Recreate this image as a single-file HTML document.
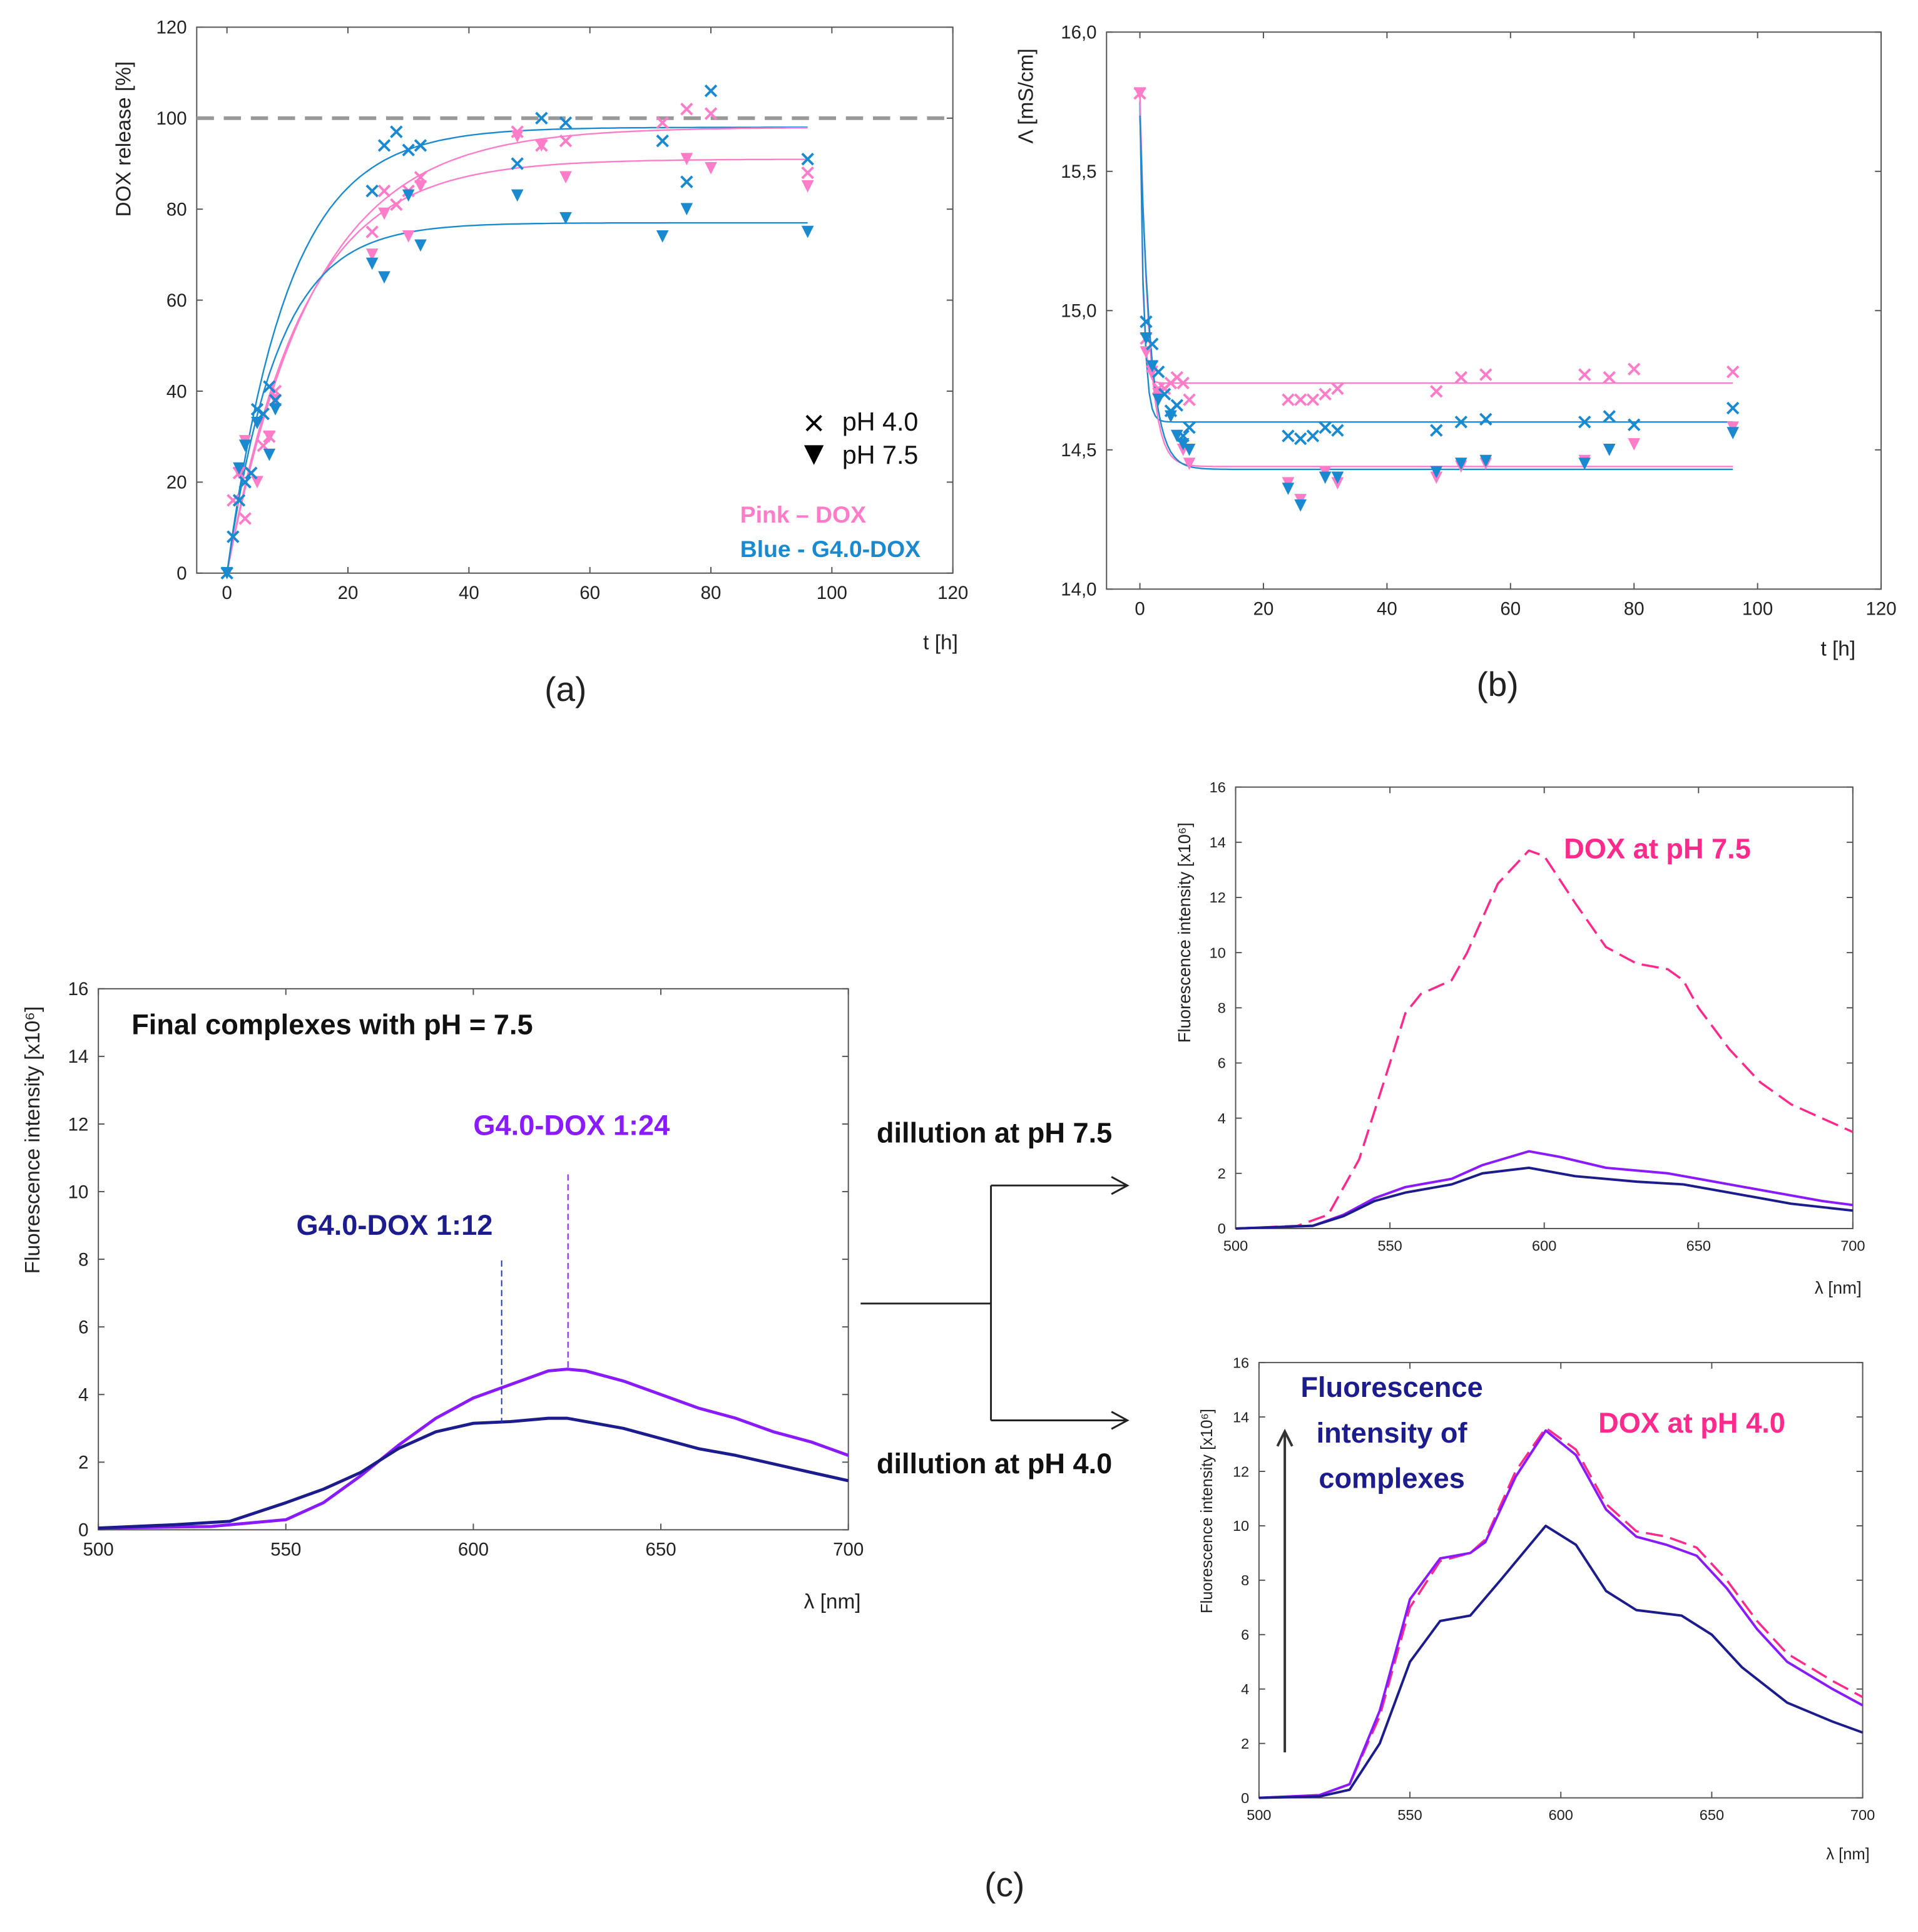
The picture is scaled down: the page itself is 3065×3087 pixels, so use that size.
<!DOCTYPE html>
<html><head><meta charset="utf-8"><style>
html,body{margin:0;padding:0;background:#fff}
svg{display:block}
text{font-family:"Liberation Sans",sans-serif}
</style></head><body>
<svg id="fig" width="3065" height="3087" viewBox="0 0 1560 1571" xmlns="http://www.w3.org/2000/svg"></svg>
<script>
// ---------- Panel (a) data ----------
const aBlueXT=[0,1,2,3,4,5,6,7,8,24,26,28,30,32,48,52,56,72,76,80,96];
const aBlueXV=[0,8,16,20,22,36,35,41,38,84,94,97,93,94,90,100,99,95,86,106,91];
const aBlueTT=[0,2,3,5,7,8,24,26,30,32,48,56,72,76,96];
const aBlueTV=[0,23,28,33,26,36,68,65,83,72,83,78,74,80,75];
const aPinkXT=[1,2,3,4,6,7,8,24,26,28,30,32,48,52,56,72,76,80,96];
const aPinkXV=[16,22,12,22,28,30,40,75,84,81,84,87,97,94,95,99,102,101,88];
const aPinkTT=[2,3,5,7,8,24,26,30,32,48,52,56,76,80,96];
const aPinkTV=[22,29,20,30,38,70,79,74,85,96,94,87,91,89,85];
const aFitPlateau=[98,98,91,77];
const aFitRate=[0.1,0.07,0.08,0.12];
const aXTicks=[0,20,40,60,80,100,120];
const aYTicks=[0,20,40,60,80,100,120];
// ---------- Panel (b) data ----------
const bPinkXT=[0,1,2,3,4,5,6,7,8,24,26,28,30,32,48,52,56,72,76,80,96];
const bPinkXV=[15.78,14.9,14.8,14.72,14.72,14.74,14.76,14.74,14.68,14.68,14.68,14.68,14.7,14.72,14.71,14.76,14.77,14.77,14.76,14.79,14.78];
const bBlueXT=[1,2,3,4,5,6,7,8,24,26,28,30,32,48,52,56,72,76,80,96];
const bBlueXV=[14.96,14.88,14.78,14.7,14.64,14.66,14.55,14.58,14.55,14.54,14.55,14.58,14.57,14.57,14.6,14.61,14.6,14.62,14.59,14.65];
const bPinkTT=[0,1,2,3,5,6,7,8,24,26,30,32,48,52,56,72,76,80,96];
const bPinkTV=[15.78,14.85,14.78,14.7,14.62,14.55,14.5,14.45,14.38,14.32,14.42,14.38,14.4,14.44,14.45,14.46,14.5,14.52,14.58];
const bBlueTT=[1,2,3,5,6,7,8,24,26,30,32,48,52,56,72,76,96];
const bBlueTV=[14.9,14.8,14.68,14.62,14.55,14.52,14.5,14.36,14.3,14.4,14.4,14.42,14.45,14.46,14.45,14.5,14.56];
const bFitPlateau=[14.74,14.60,14.44,14.43];
const bFitStart=[15.78,15.75,15.78,15.7];
const bFitRate=[2.2,1.6,0.7,0.6];
const bXTicks=[0,20,40,60,80,100,120];
const bYTicks=[14.0,14.5,15.0,15.5,16.0];
// ---------- Panel (c) left ----------
const cLPurpleX=[500,530,550,560,570,580,590,600,610,620,625,630,640,650,660,670,680,690,700];
const cLPurpleY=[0.05,0.1,0.3,0.8,1.6,2.5,3.3,3.9,4.3,4.7,4.75,4.7,4.4,4.0,3.6,3.3,2.9,2.6,2.2];
const cLNavyX=[500,520,535,550,560,570,580,590,600,610,620,625,630,640,650,660,670,680,690,700];
const cLNavyY=[0.05,0.15,0.25,0.8,1.2,1.7,2.4,2.9,3.15,3.2,3.3,3.3,3.2,3.0,2.7,2.4,2.2,1.95,1.7,1.45];
// ---------- Panel (c) top right ----------
const cTPinkX=[500,520,530,540,550,555,560,570,575,585,595,600,610,620,630,640,645,650,660,670,680,690,700];
const cTPinkY=[0,0.1,0.5,2.5,6,7.8,8.5,9,10,12.5,13.7,13.5,11.8,10.2,9.6,9.4,9,8,6.5,5.3,4.5,4,3.5];
const cTPurpleX=[500,525,535,545,555,570,580,595,605,620,640,650,670,690,700];
const cTPurpleY=[0,0.1,0.5,1.1,1.5,1.8,2.3,2.8,2.6,2.2,2.0,1.8,1.4,1.0,0.85];
const cTNavyX=[500,525,535,545,555,570,580,595,610,630,645,660,680,700];
const cTNavyY=[0,0.1,0.45,1.0,1.3,1.6,2.0,2.2,1.9,1.7,1.6,1.3,0.9,0.65];
// ---------- Panel (c) bottom right ----------
const cBPinkX=[500,520,530,540,550,560,570,575,585,595,605,615,625,635,645,655,665,675,690,700];
const cBPinkY=[0,0.1,0.5,3,7,8.7,9,9.5,12,13.6,12.8,10.8,9.8,9.6,9.2,8,6.5,5.3,4.3,3.7];
const cBPurpleX=[500,520,530,540,550,560,570,575,585,595,605,615,625,635,645,655,665,675,690,700];
const cBPurpleY=[0,0.1,0.5,3.2,7.3,8.8,9.0,9.4,11.8,13.5,12.6,10.6,9.6,9.3,8.9,7.7,6.2,5.0,4.0,3.4];
const cBNavyX=[500,520,530,540,550,560,570,580,595,605,615,625,640,650,660,675,690,700];
const cBNavyY=[0,0.05,0.3,2,5,6.5,6.7,8,10,9.3,7.6,6.9,6.7,6,4.8,3.5,2.8,2.4];
const cXTicks=[500,550,600,650,700];
const cYTicks=[0,2,4,6,8,10,12,14,16];

const NS="http://www.w3.org/2000/svg";
const svg=document.getElementById('fig');
function el(tag,attrs,parent){const e=document.createElementNS(NS,tag);for(const k in attrs)e.setAttribute(k,attrs[k]);(parent||svg).appendChild(e);return e;}
function txt(s,x,y,size,fill,anchor,extra){const t=el('text',Object.assign({x:x,y:y,'font-size':size,fill:fill,'text-anchor':anchor||'start'},extra||{}));t.textContent=s;return t;}
function axes(x0,x1,y0,y1,xmin,xmax,ymin,ymax){return{sx:v=>x0+(v-xmin)/(xmax-xmin)*(x1-x0),sy:v=>y1-(v-ymin)/(ymax-ymin)*(y1-y0)};}
function frame(x0,y0,x1,y1,name){const r=el('rect',{x:x0,y:y0,width:x1-x0,height:y1-y0,fill:'none',stroke:'#555','stroke-width':1});

}
function ticks(A,xt,yt,x0,y0,x1,y1,fs,fmt){
 xt.forEach(v=>{const x=A.sx(v);el('line',{x1:x,y1:y1,x2:x,y2:y1-5,stroke:'#555'});el('line',{x1:x,y1:y0,x2:x,y2:y0+5,stroke:'#555'});
  const t=txt(String(v),x,y1+fs+6,fs,'#222','middle');
  
  });
 yt.forEach(v=>{const y=A.sy(v);el('line',{x1:x0,y1:y,x2:x0+5,y2:y,stroke:'#555'});el('line',{x1:x1,y1:y,x2:x1-5,y2:y,stroke:'#555'});
  const t=txt(fmt?fmt(v):String(v),x0-8,y+fs*0.35,fs,'#222','end');
  
  });
}
function xmark(x,y,c,s){const g=el('g',{stroke:c,'stroke-width':2});el('line',{x1:x-s,y1:y-s,x2:x+s,y2:y+s},g);el('line',{x1:x-s,y1:y+s,x2:x+s,y2:y-s},g);
 
 }
function tri(x,y,c,s){const p=el('polygon',{points:`${x-s},${y-s} ${x+s},${y-s} ${x},${y+s}`,fill:c});
 
 }
function poly(A,xs,ys,c,w,dash,name){const pts=xs.map((v,i)=>A.sx(v).toFixed(1)+','+A.sy(ys[i]).toFixed(1)).join(' ');
 const p=el('polyline',{points:pts,fill:'none',stroke:c,'stroke-width':w,'stroke-linejoin':'round'});if(dash)p.setAttribute('stroke-dasharray',dash);
 
 }

const PINK='#ff7cc8',BLUE='#1a8ad0',PURPLE='#8a1aff',NAVY='#1c1c8c',MAG='#ff2a8c';

// ===== Panel (a) =====
{const A=axes(160,775,22,466,-5,120,0,120);
 frame(160,22,775,466,'panel-a-plot-area');
 ticks(A,aXTicks,aYTicks,160,22,775,466,15);
 const d=el('line',{x1:160,y1:A.sy(100),x2:775,y2:A.sy(100),stroke:'#999','stroke-width':3,'stroke-dasharray':'14,8'});
 
 
 const cols=[BLUE,PINK,PINK,BLUE];
 aFitPlateau.forEach((P,i)=>{const ts=[],vs=[];for(let t=0;t<=96;t+=1){ts.push(t);vs.push(P*(1-Math.exp(-aFitRate[i]*t)));}poly(A,ts,vs,cols[i],1.2,null,'fit-curve-a');});
 aPinkXT.forEach((t,i)=>xmark(A.sx(t),A.sy(aPinkXV[i]),PINK,4.5));
 aPinkTT.forEach((t,i)=>tri(A.sx(t),A.sy(aPinkTV[i]),PINK,5));
 aBlueXT.forEach((t,i)=>xmark(A.sx(t),A.sy(aBlueXV[i]),BLUE,4.5));
 aBlueTT.forEach((t,i)=>tri(A.sx(t),A.sy(aBlueTV[i]),BLUE,5));
 xmark(662,344,'#000',6);tri(662,370,'#000',8);
 let t=txt('pH 4.0',685,350,21,'#111');
 t=txt('pH 7.5',685,377,21,'#111');
 t=txt('Pink –  DOX',602,425,19,PINK,'start',{'font-weight':'bold'});
 t=txt('Blue - G4.0-DOX',602,453,19,BLUE,'start',{'font-weight':'bold'});
 t=txt('DOX release [%]',106,113,17,'#222','middle',{transform:'rotate(-90 106 113)'});
 t=txt('t [h]',765,528,17,'#222','middle');
 t=txt('(a)',460,570,28,'#222','middle');
}
// ===== Panel (b) =====
{const A=axes(900,1530,26,479,-5.4,120,14,16);
 frame(900,26,1530,479,'panel-b-plot-area');
 ticks(A,bXTicks,bYTicks,900,26,1530,479,15,v=>v.toFixed(1).replace('.',','));
 const cols=[PINK,BLUE,PINK,BLUE];
 bFitPlateau.forEach((P,i)=>{const ts=[],vs=[];for(let t=0;t<=96;t+=0.5){ts.push(t);vs.push(P+(bFitStart[i]-P)*Math.exp(-bFitRate[i]*t));}poly(A,ts,vs,cols[i],1.2,null,'fit-curve-b');});
 bPinkXT.forEach((t,i)=>xmark(A.sx(t),A.sy(bPinkXV[i]),PINK,4.5));
 bPinkTT.forEach((t,i)=>tri(A.sx(t),A.sy(bPinkTV[i]),PINK,5));
 bBlueXT.forEach((t,i)=>xmark(A.sx(t),A.sy(bBlueXV[i]),BLUE,4.5));
 bBlueTT.forEach((t,i)=>tri(A.sx(t),A.sy(bBlueTV[i]),BLUE,5));
 let t=txt('Λ [mS/cm]',840,78,17,'#222','middle',{transform:'rotate(-90 840 78)'});
 t=txt('t [h]',1495,533,17,'#222','middle');
 t=txt('(b)',1218,566,28,'#222','middle');
}
// ===== Panel (c) left =====
{const A=axes(80,690,804,1244,500,700,0,16);
 frame(80,804,690,1244,'panel-c-left-plot-area');
 ticks(A,cXTicks,cYTicks,80,804,690,1244,15);
 poly(A,cLPurpleX,cLPurpleY,PURPLE,2.5,null,'curve-1-24');
 poly(A,cLNavyX,cLNavyY,NAVY,2.5,null,'curve-1-12');
 let l=el('line',{x1:408,y1:1025,x2:408,y2:1157,stroke:'#2233aa','stroke-dasharray':'5,3'});
 l=el('line',{x1:462,y1:955,x2:462,y2:1112,stroke:PURPLE,'stroke-dasharray':'5,3'});
 let t=txt('Final complexes with pH = 7.5',107,841,23,'#111','start',{'font-weight':'bold'});
 t=txt('G4.0-DOX 1:24',385,923,23,PURPLE,'start',{'font-weight':'bold'});
 t=txt('G4.0-DOX 1:12',241,1004,23,NAVY,'start',{'font-weight':'bold'});
 t=txt('Fluorescence intensity [x10⁶]',32,927,17,'#222','middle',{transform:'rotate(-90 32 927)'});
 t=txt('λ [nm]',677,1308,17,'#222','middle');
}
// arrows
{const g=el('g',{stroke:'#222','stroke-width':1.5,fill:'none'});
 
 
 el('polyline',{points:'700,1060 806,1060'},g);el('polyline',{points:'806,964 806,1155'},g);
 el('polyline',{points:'806,964 916,964'},g);el('polyline',{points:'806,1155 916,1155'},g);
 el('polyline',{points:'904,957 917,964 904,971'},g);el('polyline',{points:'904,1148 917,1155 904,1162'},g);
 let t=txt('dillution at pH 7.5',713,929,23,'#111','start',{'font-weight':'bold'});
 t=txt('dillution at pH 4.0',713,1198,23,'#111','start',{'font-weight':'bold'});
}
// ===== Panel (c) top right =====
{const A=axes(1005,1507,640,999,500,700,0,16);
 frame(1005,640,1507,999,'panel-c-top-plot-area');
 ticks(A,cXTicks,cYTicks,1005,640,1507,999,12);
 poly(A,cTPinkX,cTPinkY,MAG,1.8,'14,6','curve-dox-ph75');
 poly(A,cTPurpleX,cTPurpleY,PURPLE,2,null,'curve-top-1-24');
 poly(A,cTNavyX,cTNavyY,NAVY,2,null,'curve-top-1-12');
 let t=txt('DOX at pH 7.5',1272,698,23,MAG,'start',{'font-weight':'bold'});
 t=txt('Fluorescence intensity [x10⁶]',968,848,14,'#222','start',{transform:'rotate(-90 968 848)'});
 t=txt('λ [nm]',1495,1052,14,'#222','middle');
}
// ===== Panel (c) bottom right =====
{const A=axes(1024,1515,1108,1462,500,700,0,16);
 frame(1024,1108,1515,1462,'panel-c-bottom-plot-area');
 ticks(A,cXTicks,cYTicks,1024,1108,1515,1462,12);
 poly(A,cBPinkX,cBPinkY,MAG,1.8,'14,6','curve-dox-ph4');
 poly(A,cBPurpleX,cBPurpleY,PURPLE,2,null,'curve-bottom-1-24');
 poly(A,cBNavyX,cBNavyY,NAVY,2,null,'curve-bottom-1-12');
 const g=el('g',{stroke:'#333','stroke-width':2,fill:'none'});
 
 
 el('line',{x1:1045,y1:1425,x2:1045,y2:1166},g);el('polyline',{points:'1039,1176 1045,1164 1051,1176'},g);
 let t=txt('DOX at pH 4.0',1300,1165,23,MAG,'start',{'font-weight':'bold'});
 ['Fluorescence','intensity of','complexes'].forEach((s,i)=>{const u=txt(s,1132,1136+37*i,23,NAVY,'middle',{'font-weight':'bold'});
  
  });
 t=txt('Fluorescence intensity [x10⁶]',986,1312,13,'#222','start',{transform:'rotate(-90 986 1312)'});
 t=txt('λ [nm]',1503,1512,13,'#222','middle');
}
{const t=txt('(c)',817,1542,28,'#222','middle');
 
 }
</script>
</body></html>
